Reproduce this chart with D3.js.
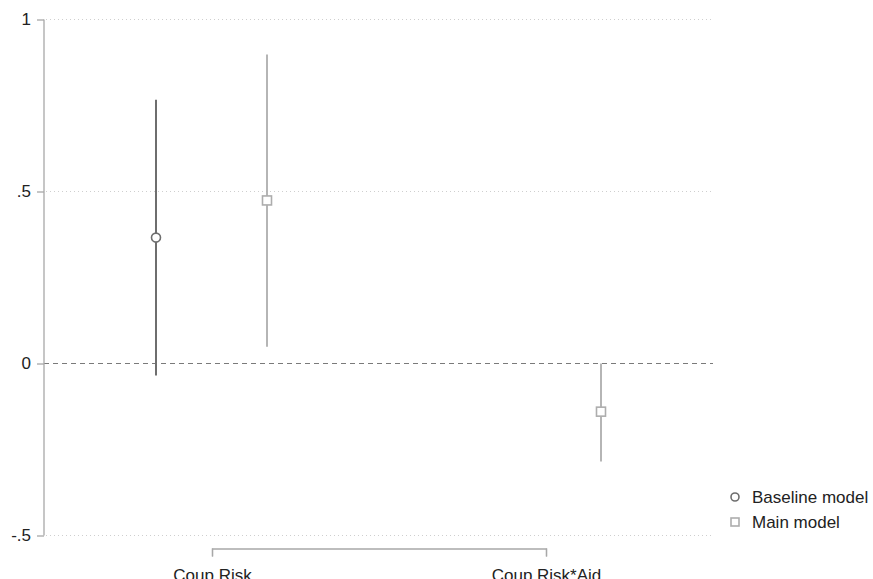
<!DOCTYPE html>
<html>
<head>
<meta charset="utf-8">
<script src="https://cdn.jsdelivr.net/npm/d3@7"></script>
<style>
  body { margin: 0; background: #fff; }
  svg { display: block; font-family: "Liberation Sans", Arial, sans-serif; }
</style>
</head>
<body>
<svg id="chart" width="873" height="579"></svg>
<script>
// Coefficient estimates with 95% confidence intervals
const categories = ["Coup Risk", "Coup Risk*Aid"];
const seriesNames = ["Baseline model", "Main model"];
const baselineEst = [0.366, null];
const baselineLo  = [-0.035, null];
const baselineHi  = [0.767, null];
const mainEst = [0.474, -0.140];
const mainLo  = [0.049, -0.285];
const mainHi  = [0.898, 0.0];
const yTicks = [-0.5, 0, 0.5, 1];
const yTickLabels = ["-.5", "0", ".5", "1"];

const svg = d3.select("#chart");
const axisColor = "#a8a8a8";
const seriesColors = ["#6e6e6e", "#adadad"];
const seriesOffset = [-56, 55];

const y = d3.scaleLinear().domain([-0.5, 1]).range([535.5, 19.5]);
const x = d3.scalePoint().domain(categories).range([212, 546]);
const plotLeft = 44, plotRight = 713;

// gridlines
svg.append("g").selectAll("line")
  .data(yTicks.filter(d => d !== 0))
  .join("line")
  .attr("x1", plotLeft + 2).attr("x2", plotRight)
  .attr("y1", d => y(d)).attr("y2", d => y(d))
  .attr("stroke", "#cfcfcf").attr("stroke-width", 1)
  .attr("stroke-dasharray", "1,3");

// zero reference line
svg.append("line")
  .attr("x1", plotLeft).attr("x2", plotRight)
  .attr("y1", y(0)).attr("y2", y(0))
  .attr("stroke", "#7a7a7a").attr("stroke-width", 1.2)
  .attr("stroke-dasharray", "5,4");

// y axis
const yAxis = d3.axisLeft(y).tickValues(yTicks)
  .tickFormat((d, i) => yTickLabels[i]).tickSize(7).tickPadding(6);
const gy = svg.append("g").attr("transform", `translate(${plotLeft},0)`).call(yAxis);
gy.select(".domain").attr("stroke", axisColor).attr("stroke-width", 1.3)
  .attr("d", `M-0,${y(1)}V${y(-0.5)}`);
gy.selectAll(".tick line").attr("stroke", axisColor).attr("stroke-width", 1.3);
gy.selectAll(".tick text").attr("fill", "#222").style("font-size", "17px");

// x axis (bracket between categories)
const xAxis = d3.axisBottom(x).tickSize(8).tickPadding(12);
const gx = svg.append("g").attr("transform", "translate(0,548.5)").call(xAxis);
gx.select(".domain").attr("stroke", axisColor).attr("stroke-width", 1.3);
gx.selectAll(".tick line").attr("stroke", axisColor).attr("stroke-width", 1.3);
gx.selectAll(".tick text").attr("fill", "#222").style("font-size", "17px");

// series data
const series = [
  { name: seriesNames[0], est: baselineEst, lo: baselineLo, hi: baselineHi, shape: "circle", width: 2 },
  { name: seriesNames[1], est: mainEst, lo: mainLo, hi: mainHi, shape: "square", width: 1.8 }
];

series.forEach((s, si) => {
  const pts = categories.map((c, i) => ({ c, est: s.est[i], lo: s.lo[i], hi: s.hi[i] }))
    .filter(d => d.est !== null);
  const g = svg.append("g");
  const px = d => x(d.c) + seriesOffset[si];
  g.selectAll("line.ci").data(pts).join("line")
    .attr("class", "ci")
    .attr("x1", px).attr("x2", px)
    .attr("y1", d => y(d.lo)).attr("y2", d => y(d.hi))
    .attr("stroke", seriesColors[si]).attr("stroke-width", s.width);
  if (s.shape === "circle") {
    g.selectAll("circle").data(pts).join("circle")
      .attr("cx", px).attr("cy", d => y(d.est)).attr("r", 4.5)
      .attr("fill", "#fff").attr("stroke", seriesColors[si]).attr("stroke-width", 1.6);
  } else {
    g.selectAll("rect").data(pts).join("rect")
      .attr("x", d => px(d) - 4.5).attr("y", d => y(d.est) - 4.5)
      .attr("width", 9).attr("height", 9)
      .attr("fill", "#fff").attr("stroke", seriesColors[si]).attr("stroke-width", 1.6);
  }
});

// legend
const legend = svg.append("g").attr("transform", "translate(735,497)");
series.forEach((s, si) => {
  const row = legend.append("g").attr("transform", `translate(0,${si * 25})`);
  if (s.shape === "circle") {
    row.append("circle").attr("r", 4).attr("fill", "#fff")
      .attr("stroke", seriesColors[si]).attr("stroke-width", 1.6);
  } else {
    row.append("rect").attr("x", -4).attr("y", -4).attr("width", 8).attr("height", 8)
      .attr("fill", "#fff").attr("stroke", seriesColors[si]).attr("stroke-width", 1.6);
  }
  row.append("text").attr("x", 17).attr("y", 6)
    .attr("fill", "#222").style("font-size", "17px").text(s.name);
});
</script>
</body>
</html>
